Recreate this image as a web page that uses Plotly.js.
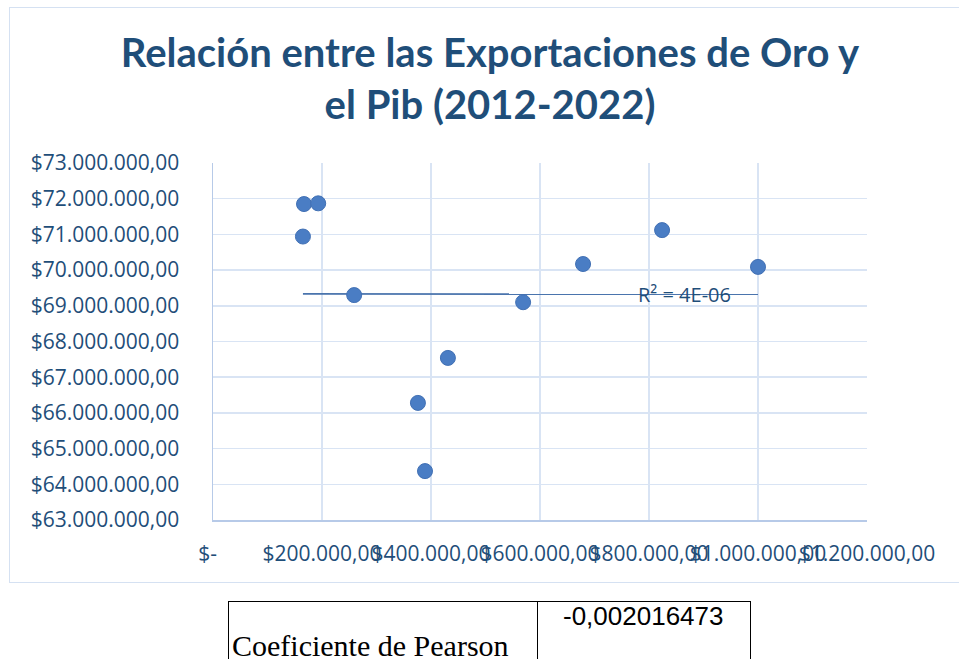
<!DOCTYPE html>
<html>
<head>
<meta charset="utf-8">
<script src="https://cdn.plot.ly/plotly-3.0.1.min.js"></script>
<style>
  html, body { margin:0; padding:0; background:#ffffff; }
  #wrap { position:relative; width:959px; height:659px; overflow:hidden; }
  #chart { position:absolute; left:0; top:0; width:959px; height:659px; }
  #frame { position:absolute; left:9px; top:7px; width:970px; height:574px; border:1.5px solid #d5e1f2; pointer-events:none; }
  #tbl { position:absolute; left:228px; top:601px; border-collapse:collapse; }
  #tbl td { border:1.5px solid #000; padding:0; vertical-align:top; }
</style>
</head>
<body>
<div id="wrap">
  <div id="chart"></div>
  <div id="frame"></div>
  <table id="tbl">
    <tr>
      <td style="width:308px;height:70px;position:relative;"><span id="lab" style="position:absolute;left:3px;top:29px;line-height:1;font-family:'Liberation Serif','Times New Roman',serif;font-size:30px;color:#000;white-space:nowrap;"></span></td>
      <td style="width:212px;height:70px;position:relative;"><span id="val" style="position:absolute;left:25px;top:1px;line-height:1;font-family:'Liberation Sans',Arial,sans-serif;font-size:26px;color:#000;white-space:nowrap;"></span></td>
    </tr>
  </table>
</div>
<script>
// Exportaciones de oro (x) y PIB (y)
var exportsGold = [167000, 193000, 165000, 259000, 376000, 389000, 431000, 569000, 679000, 824000, 1000000];
var gdp = [71850000, 71870000, 70940000, 69300000, 66280000, 64370000, 67540000, 69100000, 70170000, 71120000, 70090000];

var xTickVals = [0, 200000, 400000, 600000, 800000, 1000000, 1200000];
var xTickText = ["$-\u00a0\u00a0", "$200.000,00", "$400.000,00", "$600.000,00", "$800.000,00", "$1.000.000,00", "$1.200.000,00"];
var yTickVals = [63000000, 64000000, 65000000, 66000000, 67000000, 68000000, 69000000, 70000000, 71000000, 72000000, 73000000];
var yTickText = ["$63.000.000,00", "$64.000.000,00", "$65.000.000,00", "$66.000.000,00", "$67.000.000,00", "$68.000.000,00", "$69.000.000,00", "$70.000.000,00", "$71.000.000,00", "$72.000.000,00", "$73.000.000,00"];

var titleText = "Relación entre las Exportaciones de Oro y<br>el Pib (2012-2022)";
var r2Text = "R² = 4E-06";
var pearsonLabel = "Coeficiente de Pearson";
var pearsonValue = "-0,002016473";

document.getElementById('lab').textContent = pearsonLabel;
document.getElementById('val').textContent = pearsonValue;

// linear regression trendline
var n = exportsGold.length, sx = 0, sy = 0, sxx = 0, sxy = 0;
for (var i = 0; i < n; i++) { sx += exportsGold[i]; sy += gdp[i]; sxx += exportsGold[i]*exportsGold[i]; sxy += exportsGold[i]*gdp[i]; }
var slope = (n*sxy - sx*sy) / (n*sxx - sx*sx);
var intercept = (sy - slope*sx) / n;
var xmin = Math.min.apply(null, exportsGold), xmax = Math.max.apply(null, exportsGold);
var trendX = [xmin, xmax];
var trendY = [intercept + slope*xmin, intercept + slope*xmax];

var textColor = '#1f4e79';
var font = "'Open Sans', sans-serif";

var traces = [
  { x: trendX, y: trendY, mode: 'lines', type: 'scatter', line: {color: '#4a74ad', width: 1.8}, hoverinfo: 'skip', showlegend: false },
  { x: exportsGold, y: gdp, mode: 'markers', type: 'scatter', marker: {size: 15, color: '#4a7dc4', line: {color: '#4170b4', width: 1}}, showlegend: false }
];

var layout = {
  width: 959, height: 659,
  margin: {l: 213, r: 92, t: 163, b: 139},
  paper_bgcolor: 'rgba(0,0,0,0)',
  plot_bgcolor: '#ffffff',
  showlegend: false,
  title: { text: titleText, font: {family: "Lato, sans-serif", size: 40, color: textColor, weight: 'bold'}, x: 490/959, xanchor: 'center', y: 1 - 67/659, yanchor: 'top', yref: 'container' },
  xaxis: {
    range: [0, 1200000], tickvals: xTickVals, ticktext: xTickText, tickangle: 0,
    showgrid: true, gridcolor: '#d9e4f4', gridwidth: 1.5,
    showline: true, linecolor: '#b7cae8', linewidth: 1.5, mirror: false,
    zeroline: false, ticks: '', ticklabelstandoff: 14,
    tickfont: {family: font, size: 21, color: textColor}
  },
  yaxis: {
    range: [63000000, 73000000], tickvals: yTickVals, ticktext: yTickText,
    showgrid: true, gridcolor: '#d9e4f4', gridwidth: 1.5,
    showline: true, linecolor: '#b7cae8', linewidth: 1.5,
    zeroline: false, ticks: '', ticklabelstandoff: 28,
    tickfont: {family: font, size: 21, color: textColor}
  },
  annotations: [
    { x: 866000, y: intercept + slope*866000, xref: 'x', yref: 'y', text: r2Text, showarrow: false, xanchor: 'center', yanchor: 'middle', font: {family: font, size: 20, color: textColor} }
  ]
};

Plotly.newPlot('chart', traces, layout, {staticPlot: true, displayModeBar: false});
</script>
</body>
</html>
